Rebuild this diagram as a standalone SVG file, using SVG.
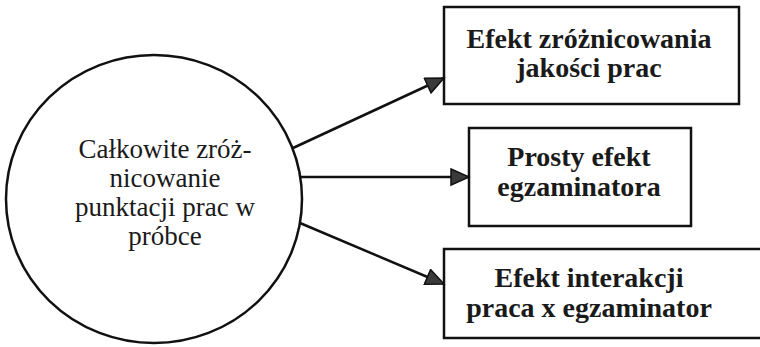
<svg xmlns="http://www.w3.org/2000/svg" width="760" height="347" viewBox="0 0 760 347">
<defs>
<style>
.bg{fill:#ffffff}
.shape{fill:#ffffff;stroke:#111;stroke-width:2.5}
.conn{stroke:#111;stroke-width:2.5;fill:none}
.ctext{font-family:"Liberation Serif","Times New Roman",serif;font-size:27px;fill:#1a1a1a;text-anchor:middle}
.btext{font-family:"Liberation Serif","Times New Roman",serif;font-size:28px;font-weight:bold;fill:#1a1a1a;text-anchor:middle}
</style>
<marker id="arr" markerUnits="userSpaceOnUse" markerWidth="22" markerHeight="20" refX="19" refY="9" orient="auto">
<path d="M1,1 L19,9 L1,17 Z" fill="#3a3a3a" stroke="#111" stroke-width="1.5" stroke-linejoin="miter"/>
</marker>
</defs>
<rect class="bg" x="0" y="0" width="760" height="347"/>
<g id="node-total">
<ellipse class="shape" cx="154" cy="199" rx="148" ry="144"/>
<text class="ctext" x="165" y="158">Całkowite zróż-</text>
<text class="ctext" x="165" y="187">nicowanie</text>
<text class="ctext" x="165" y="216">punktacji prac w</text>
<text class="ctext" x="165" y="245">próbce</text>
</g>
<g id="node-quality">
<rect class="shape" x="444" y="7" width="295" height="97"/>
<text class="btext" x="589" y="48">Efekt zróżnicowania</text>
<text class="btext" x="589" y="77">jakości prac</text>
</g>
<g id="node-examiner">
<rect class="shape" x="469" y="128" width="222" height="98"/>
<text class="btext" x="579" y="166">Prosty efekt</text>
<text class="btext" x="579" y="196">egzaminatora</text>
</g>
<g id="node-interaction">
<rect class="shape" x="444" y="249" width="330" height="89"/>
<text class="btext" x="589" y="287">Efekt interakcji</text>
<text class="btext" x="589" y="317">praca x egzaminator</text>
</g>
<g id="connectors">
<line class="conn" x1="293" y1="148" x2="444" y2="78" marker-end="url(#arr)"/>
<line class="conn" x1="301" y1="177" x2="469" y2="177" marker-end="url(#arr)"/>
<line class="conn" x1="300" y1="223" x2="444" y2="284" marker-end="url(#arr)"/>
</g>
</svg>
